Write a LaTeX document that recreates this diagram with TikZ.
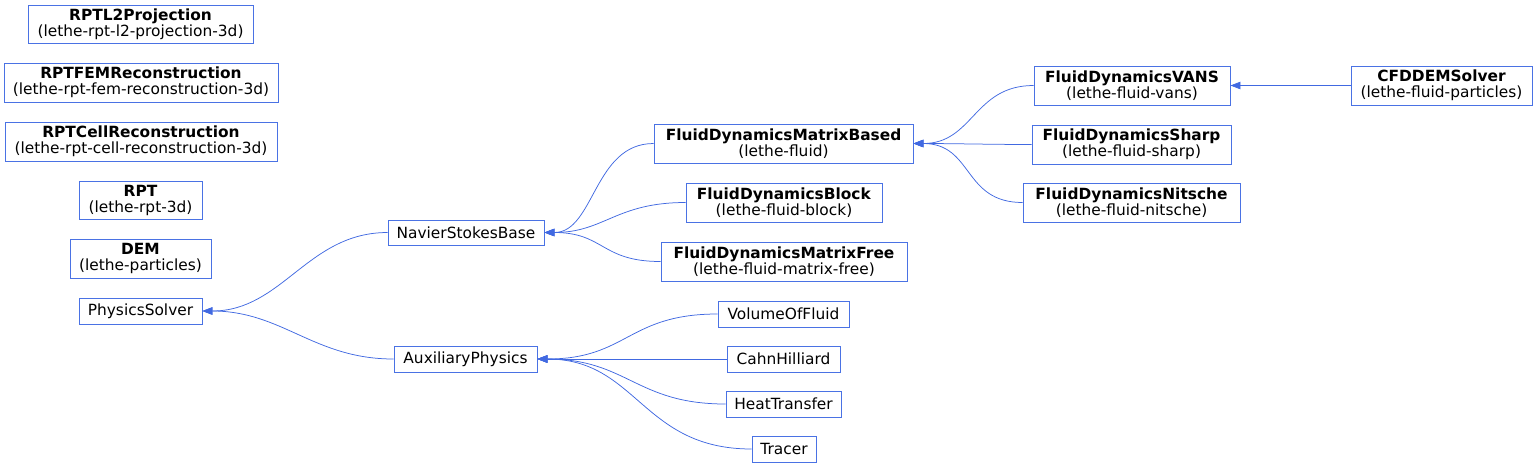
\documentclass[tikz,border=0pt]{standalone}
\usepackage{fontspec}
\setmainfont{DejaVu Sans}
\usetikzlibrary{arrows.meta}
\definecolor{edgeblue}{HTML}{4169E1}
\definecolor{boxblue}{HTML}{4A72E4}
\begin{document}
\begin{tikzpicture}[x=1pt,y=-1pt,
  box/.style={draw=boxblue,line width=0.9pt,fill=white,inner sep=0pt,align=center,
    font=\fontsize{15.4}{16}\selectfont},
  edge/.style={draw=edgeblue,line width=0.75pt,-{Triangle[length=10pt,width=7.5pt]}}]
\useasboundingbox (0,0) rectangle (1536,467);
% left column
\node[box,minimum width=225,minimum height=38] (l2p) at (140.5,24) {\textbf{RPTL2Projection}\\(lethe-rpt-l2-projection-3d)};
\node[box,minimum width=274,minimum height=39] (fem) at (141,82.5) {\textbf{RPTFEMReconstruction}\\(lethe-rpt-fem-reconstruction-3d)};
\node[box,minimum width=272,minimum height=39] (cell) at (141,141.5) {\textbf{RPTCellReconstruction}\\(lethe-rpt-cell-reconstruction-3d)};
\node[box,minimum width=123,minimum height=38] (rpt) at (140.5,200) {\textbf{RPT}\\(lethe-rpt-3d)};
\node[box,minimum width=141,minimum height=39] (dem) at (140.5,258.5) {\textbf{DEM}\\(lethe-particles)};
\node[box,minimum width=123,minimum height=26] (ps) at (140.5,311) {PhysicsSolver};
% second column
\node[box,minimum width=156,minimum height=25] (nsb) at (466,232.5) {NavierStokesBase};
\node[box,minimum width=143,minimum height=26] (aux) at (465.5,359) {AuxiliaryPhysics};
% third column
\node[box,minimum width=259,minimum height=39] (fdmb) at (783.5,143.5) {\textbf{FluidDynamicsMatrixBased}\\(lethe-fluid)};
\node[box,minimum width=196,minimum height=39] (fdb) at (784,202.5) {\textbf{FluidDynamicsBlock}\\(lethe-fluid-block)};
\node[box,minimum width=246,minimum height=39] (fdmf) at (784,261.5) {\textbf{FluidDynamicsMatrixFree}\\(lethe-fluid-matrix-free)};
\node[box,minimum width=131,minimum height=26] (vof) at (783.5,314) {VolumeOfFluid};
\node[box,minimum width=113,minimum height=26] (ch) at (783.5,359) {CahnHilliard};
\node[box,minimum width=115,minimum height=26] (ht) at (783.5,404) {HeatTransfer};
\node[box,minimum width=64,minimum height=26] (tr) at (784,449) {Tracer};
% fourth column
\node[box,minimum width=196,minimum height=39] (vans) at (1132,85.5) {\textbf{FluidDynamicsVANS}\\(lethe-fluid-vans)};
\node[box,minimum width=199,minimum height=39] (sharp) at (1131.5,144.5) {\textbf{FluidDynamicsSharp}\\(lethe-fluid-sharp)};
\node[box,minimum width=217,minimum height=39] (nit) at (1131.5,202.5) {\textbf{FluidDynamicsNitsche}\\(lethe-fluid-nitsche)};
% fifth column
\node[box,minimum width=181,minimum height=39] (cfd) at (1441.5,85.5) {\textbf{CFDDEMSolver}\\(lethe-fluid-particles)};
% edges
\draw[edge] (nsb.west) .. controls +(-80,0) and +(80,0) .. (ps.east);
\draw[edge] (aux.west) .. controls +(-80,0) and +(80,0) .. (ps.east);
\draw[edge] (fdmb.west) .. controls +(-60,0) and +(50,0) .. (nsb.east);
\draw[edge] (fdb.west) .. controls +(-70,0) and +(60,0) .. (nsb.east);
\draw[edge] (fdmf.west) .. controls +(-60,0) and +(60,0) .. (nsb.east);
\draw[edge] (vof.west) .. controls +(-90,0) and +(90,0) .. (aux.east);
\draw[edge] (ch.west) -- (aux.east);
\draw[edge] (ht.west) .. controls +(-90,0) and +(90,0) .. (aux.east);
\draw[edge] (tr.west) .. controls +(-110,0) and +(100,0) .. (aux.east);
\draw[edge] (vans.west) .. controls +(-60,0) and +(60,0) .. (fdmb.east);
\draw[edge] (sharp.west) .. controls +(-40,0) and +(40,0) .. (fdmb.east);
\draw[edge] (nit.west) .. controls +(-60,0) and +(60,0) .. (fdmb.east);
\draw[edge] (cfd.west) -- (vans.east);
\end{tikzpicture}
\end{document}
